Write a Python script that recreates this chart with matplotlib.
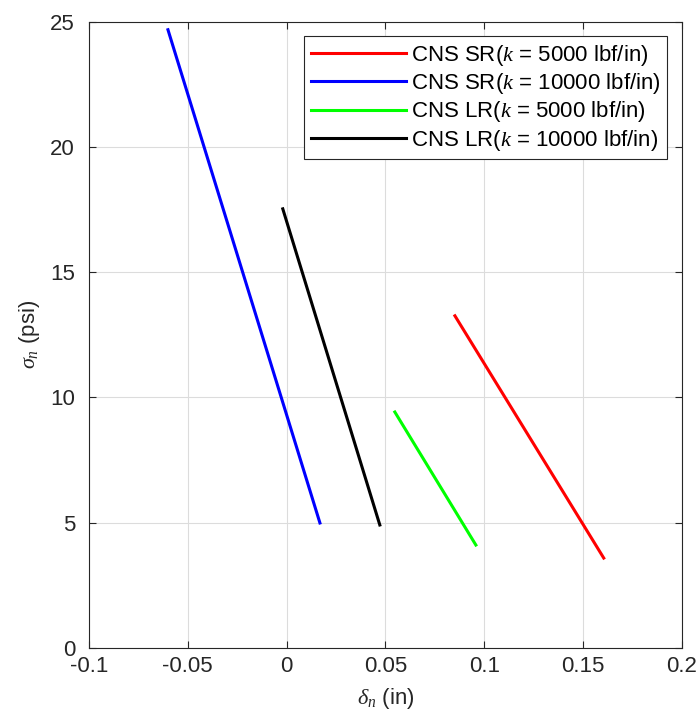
import matplotlib.pyplot as plt

plt.rcParams['font.family'] = ['Liberation Sans', 'DejaVu Sans']
plt.rcParams['mathtext.fontset'] = 'custom'
plt.rcParams['mathtext.it'] = 'Liberation Serif:italic'
plt.rcParams['mathtext.rm'] = 'Liberation Sans'

# endpoints of each line (delta_n in, sigma_n psi)
sr5000_x = [0.0852, 0.1605]
sr5000_y = [13.26, 3.59]
sr10000_x = [-0.0600, 0.0169]
sr10000_y = [24.68, 4.99]
lr5000_x = [0.0548, 0.0958]
lr5000_y = [9.42, 4.11]
lr10000_x = [-0.0019, 0.0472]
lr10000_y = [17.53, 4.91]

labels = ['CNS SR($k$ = 5000 lbf/in)', 'CNS SR($k$ = 10000 lbf/in)',
          'CNS LR($k$ = 5000 lbf/in)', 'CNS LR($k$ = 10000 lbf/in)']
xticks = [-0.1, -0.05, 0, 0.05, 0.1, 0.15, 0.2]
xtick_labels = ['-0.1', '-0.05', '0', '0.05', '0.1', '0.15', '0.2']
yticks = [0, 5, 10, 15, 20, 25]

fs = 16
fig = plt.figure(figsize=(7, 7.24), dpi=100)
ax = fig.add_axes([0.127, 0.105, 0.847, 0.865])

ax.plot(sr5000_x, sr5000_y, color='#ff0000', lw=2.2, label=labels[0])
ax.plot(sr10000_x, sr10000_y, color='#0000ff', lw=2.2, label=labels[1])
ax.plot(lr5000_x, lr5000_y, color='#00ff00', lw=2.2, label=labels[2])
ax.plot(lr10000_x, lr10000_y, color='#000000', lw=2.2, label=labels[3])

ax.set_xlim(-0.1, 0.2)
ax.set_ylim(0, 25)
ax.set_xticks(xticks)
ax.set_xticklabels(xtick_labels)
ax.set_yticks(yticks)
ax.grid(True, color='#dcdcdc', lw=0.8)
ax.set_axisbelow(True)
ax.tick_params(direction='in', top=True, right=True, labelsize=fs, colors='#262626', length=5)
ax.tick_params(axis='x', pad=6)
ax.tick_params(axis='y', pad=10)
for s in ax.spines.values():
    s.set_color('#262626')
    s.set_linewidth(0.8)

ax.set_xlabel(r'$\delta_n$ (in)', fontsize=fs, color='#262626', labelpad=6)
ax.set_ylabel(r'$\sigma_n$ (psi)', fontsize=fs, color='#262626', labelpad=6)

leg = ax.legend(loc='upper right', fontsize=fs, fancybox=False, framealpha=1,
                edgecolor='#262626', handlelength=4.3, borderaxespad=0.65,
                labelspacing=0.15, handletextpad=0.2, borderpad=0.3)
leg.get_frame().set_linewidth(0.8)

fig.savefig('out.png', dpi=100)
